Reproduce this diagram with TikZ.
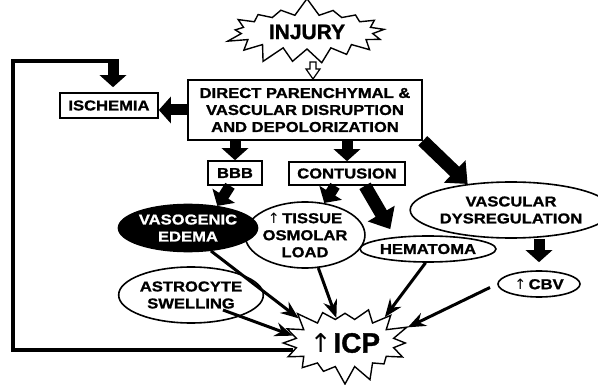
\documentclass[tikz,border=0pt]{standalone}
\usepackage{fontspec}
\setmainfont{Liberation Sans}
\newfontfamily\lab{Liberation Sans}[FakeStretch=1.16,FakeBold=1.2]
\newfontfamily\labn{Liberation Sans}[FakeBold=1.2]
\newfontfamily\arrowf{DejaVu Sans}
\usetikzlibrary{shapes.geometric,shapes.symbols,arrows.meta}
\tikzset{
 txt/.style={font=\lab\bfseries\fontsize{14.3}{17}\selectfont, align=center, inner sep=0pt},
 boxn/.style={txt, draw, line width=1.6pt},
 ell/.style={txt, ellipse, draw, line width=1.6pt},
 burst/.style={starburst, draw, line width=1.4pt, fill=white, align=center, inner sep=0pt},
 barrow/.style={line width=11pt, -{Triangle[length=12pt,width=26pt]}},
 barrowL/.style={line width=13pt, -{Triangle[length=18pt,width=30pt]}},
 tarrow/.style={line width=3pt, -{Stealth[length=18pt,width=14pt,inset=6pt]}},
 loopline/.style={line width=4pt},
}
\newcommand\up{{\arrowf\mdseries ↑}}
\begin{document}
\begin{tikzpicture}[x=1pt,y=-1pt]
\useasboundingbox[fill=white] (0,0) rectangle (598,385);
% nodes
\node[burst, starburst points=17, starburst point height=18pt, random starburst=7,
      minimum width=168pt, minimum height=70pt,
      font=\labn\bfseries\fontsize{21}{21}\selectfont] (injury) at (307,32) {INJURY};
\node[boxn, minimum width=234pt, minimum height=60pt] (main) at (305,110)
  {DIRECT PARENCHYMAL \&\\VASCULAR DISRUPTION\\AND DEPOLORIZATION};
\node[boxn, minimum width=98pt, minimum height=25pt] (isch) at (109,105.5) {ISCHEMIA};
\node[boxn, minimum width=54pt, minimum height=24pt] (bbb) at (235,173) {BBB};
\node[boxn, minimum width=116pt, minimum height=23pt] (cont) at (347,173.5) {CONTUSION};
\node[ell, minimum width=158pt, minimum height=56pt] (vasc) at (511,210) {VASCULAR\\DYSREGULATION};
\node[ell, minimum width=82pt, minimum height=26pt] (cbv) at (539,284) {\up\,CBV};
\node[ell, minimum width=126pt, minimum height=26pt] (hema) at (428,249) {HEMATOMA};
\node[ell, minimum width=114pt, minimum height=66pt] (tissue) at (305,235) {\up\,TISSUE\\OSMOLAR\\LOAD};
\node[ell, fill=black, text=white, minimum width=118pt, minimum height=47pt] (vaso) at (188,228) {VASOGENIC\\EDEMA};
\node[ell, minimum width=128pt, minimum height=56pt] (astro) at (191,295) {ASTROCYTE\\SWELLING};
\node[burst, starburst points=16, starburst point height=18pt, random starburst=3,
      minimum width=124pt, minimum height=84pt] (icp) at (345,343)
  {{\arrowf\fontsize{26}{26}\selectfont ↑}\,{\labn\bfseries\fontsize{28}{28}\selectfont ICP}};
% hollow arrow from injury
\draw[line width=1.2pt, fill=white] (310,62) -- (316,62) -- (316,69) -- (320,69) -- (313,79)
  -- (306,69) -- (310,69) -- cycle;
% block arrows
\draw[barrow] (main.west) -- (main.west -| isch.east);
\draw[barrow] (main.south -| bbb) -- (bbb.north);
\draw[barrow] (main.south -| cont) -- (cont.north);
\draw[barrow] ([xshift=-5pt]bbb.south) -- (vaso.37);
\draw[barrow] ([xshift=-12pt]cont.south) -- (tissue.59);
\draw[barrowL] ([xshift=18pt]cont.south) -- (hema.160) [shorten >=9pt];
\draw[barrowL] (main.south east) -- (vasc.149);
\draw[barrow, shorten >=8pt] (vasc.south -| cbv) -- (cbv.north);
% thin arrows to ICP
\draw[tarrow] (vaso.-45) -- (icp.152);
\draw[tarrow] ([shift={(32,15)}]astro.center) -- (icp.172);
\draw[tarrow] (tissue.-68) -- (icp.109);
\draw[tarrow] (hema.-100) -- (icp.33);
\draw[tarrow, shorten <=8pt] (cbv.west) -- (icp.14);
% feedback loop
\coordinate (lt) at (13,61);
\coordinate (la) at (113,61);
\coordinate (la0) at (113,59);
\draw[loopline] (icp.188) -- (icp.188 -| lt) -- (lt) -- ([xshift=5pt]la);
\draw[barrow, shorten >=5pt] (la0) -- (la |- isch.north);
\end{tikzpicture}
\end{document}
